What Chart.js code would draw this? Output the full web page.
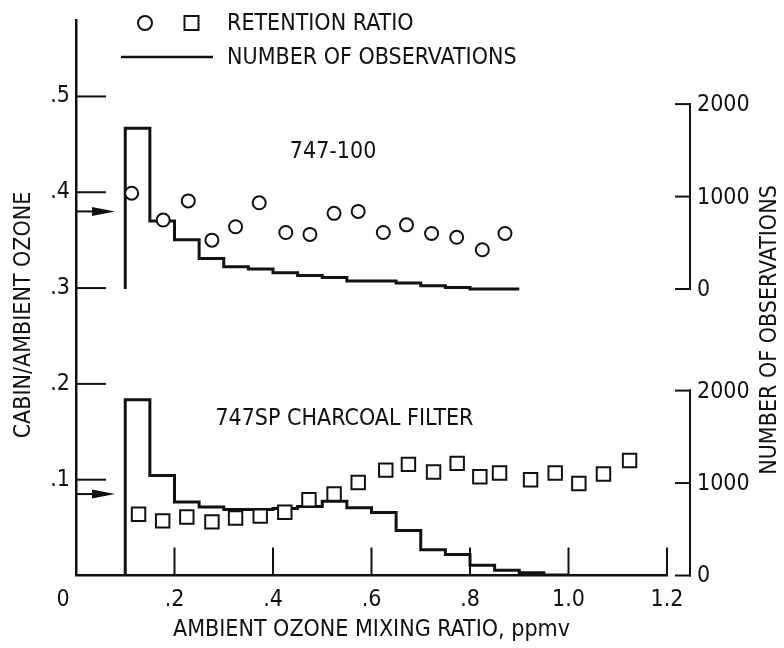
<!DOCTYPE html>
<html>
<head>
<meta charset="utf-8">
<title>Cabin/ambient ozone retention</title>
<script src="https://cdn.jsdelivr.net/npm/chart.js@4.4.1/dist/chart.umd.min.js"></script>
<style>
    html, body { margin: 0; padding: 0; background: #fff; }
    #wrap { width: 784px; height: 648px; }
</style>
</head>
<body>
<div id="wrap"><canvas id="ozone-chart" width="784" height="648"></canvas></div>
<script>
// Retention ratio, 747-100 (circles)
const top_x = [0.113, 0.177, 0.228, 0.276, 0.324, 0.372, 0.426, 0.475, 0.524, 0.573, 0.624, 0.671, 0.722, 0.773, 0.825, 0.871];
const top_ratio = [0.399, 0.371, 0.391, 0.350, 0.364, 0.389, 0.358, 0.356, 0.378, 0.380, 0.358, 0.366, 0.357, 0.353, 0.340, 0.357];

// Retention ratio, 747SP charcoal filter (squares)
const sp_x = [0.127, 0.176, 0.225, 0.276, 0.324, 0.374, 0.424, 0.473, 0.524, 0.573, 0.629, 0.675, 0.726, 0.774, 0.820, 0.860, 0.923, 0.973, 1.021, 1.071, 1.124];
const sp_ratio = [0.064, 0.057, 0.061, 0.056, 0.060, 0.062, 0.066, 0.079, 0.085, 0.097, 0.110, 0.116, 0.108, 0.117, 0.103, 0.107, 0.100, 0.107, 0.096, 0.106, 0.120];

// Number of observations per 0.05 ppmv bin
const top_bin_edges = [0.10, 0.15, 0.20, 0.25, 0.30, 0.35, 0.40, 0.45, 0.50, 0.55, 0.60, 0.65, 0.70, 0.75, 0.80, 0.85, 0.90];
const top_counts = [1740, 737, 532, 330, 240, 216, 177, 145, 126, 88, 88, 64, 35, 17, 0, 0];
const sp_bin_edges = [0.10, 0.15, 0.20, 0.25, 0.30, 0.35, 0.40, 0.45, 0.50, 0.55, 0.60, 0.65, 0.70, 0.75, 0.80, 0.85, 0.90, 0.95, 1.00];
const sp_counts = [1900, 1082, 795, 742, 714, 714, 725, 745, 802, 732, 682, 486, 279, 226, 111, 58, 29, 5];

// Arrows on the left axis
const arrow_ratio = [0.38, 0.085];

// Ticks
const x_ticks = [0, 0.2, 0.4, 0.6, 0.8, 1.0, 1.2];
const x_tick_labels = ['0', '.2', '.4', '.6', '.8', '1.0', '1.2'];
const y_ticks = [0.1, 0.2, 0.3, 0.4, 0.5];
const y_tick_labels = ['.1', '.2', '.3', '.4', '.5'];
const obs_ticks = [0, 1000, 2000];
const obs_tick_labels = ['0', '1000', '2000'];

// Where each right-hand axis puts zero observations, in cabin/ambient units
const top_obs_base = 0.299;
const sp_obs_base = 0;
const RATIO_PER_OBS = 0.0965 / 1000;

const INK = '#111';
const FONT = '"Liberation Sans Narrow", "DejaVu Sans Condensed", "Arial Narrow", sans-serif';
const FONT_SIZE = 23;

function obsToRatio(base, c) {
    return base + c * RATIO_PER_OBS;
}

// Step outline of a histogram: up the left edge, then across each bin
function histPoints(edges, counts, base) {
    const pts = [{x: edges[0], y: base}];
    counts.forEach((c, i) => pts.push({x: edges[i], y: obsToRatio(base, c)}));
    pts.push({x: edges[edges.length - 1], y: obsToRatio(base, counts[counts.length - 1])});
    return pts;
}

function line(ctx, x1, y1, x2, y2) {
    ctx.beginPath();
    ctx.moveTo(x1, y1);
    ctx.lineTo(x2, y2);
    ctx.stroke();
}

// Everything the old plot has that Chart.js doesn't draw on its own
const extrasPlugin = {
    id: 'ozoneExtras',
    afterDraw(chart) {
        const {ctx, chartArea, scales: {x, y}} = chart;
        const left = chartArea.left;
        const bottom = chartArea.bottom;
        ctx.save();
        ctx.strokeStyle = INK;
        ctx.fillStyle = INK;
        ctx.lineCap = 'butt';

        // inward tick marks
        ctx.lineWidth = 2;
        y_ticks.forEach(v => {
            const py = y.getPixelForValue(v);
            line(ctx, left, py, left + 30, py);
        });
        x_ticks.slice(1).forEach(v => {
            const px = x.getPixelForValue(v);
            line(ctx, px, bottom, px, bottom - 28);
        });

        // arrows pointing in from the left axis
        arrow_ratio.forEach(v => {
            const py = y.getPixelForValue(v);
            ctx.lineWidth = 2;
            line(ctx, left, py, left + 20, py);
            ctx.beginPath();
            ctx.moveTo(left + 16, py - 4.5);
            ctx.lineTo(left + 39, py);
            ctx.lineTo(left + 16, py + 4.5);
            ctx.closePath();
            ctx.fill();
        });

        // right-hand observation axes, one bracket per panel
        const axisX = x.getPixelForValue(1.2) + 23;
        ctx.font = FONT_SIZE + 'px ' + FONT;
        ctx.textAlign = 'left';
        ctx.textBaseline = 'middle';
        [top_obs_base, sp_obs_base].forEach(base => {
            const y0 = y.getPixelForValue(obsToRatio(base, obs_ticks[0]));
            const y1 = y.getPixelForValue(obsToRatio(base, obs_ticks[obs_ticks.length - 1]));
            ctx.lineWidth = 2;
            line(ctx, axisX, y0 + 1, axisX, y1 - 1);
            obs_ticks.forEach((c, i) => {
                const py = y.getPixelForValue(obsToRatio(base, c));
                line(ctx, axisX - 15, py, axisX + 1, py);
                ctx.fillText(obs_tick_labels[i], axisX + 7, py + 1);
            });
        });

        // "0" sits under the corner, left of the axis
        ctx.textAlign = 'center';
        ctx.fillText('0', x.getPixelForValue(0) - 13, bottom + 25);

        // panel labels
        ctx.fillText('747-100', x.getPixelForValue(0.522), y.getPixelForValue(0.442));
        ctx.textAlign = 'left';
        ctx.fillText('747SP CHARCOAL FILTER', x.getPixelForValue(0.283), y.getPixelForValue(0.163));

        // legend
        ctx.lineWidth = 2;
        ctx.fillStyle = '#fff';
        ctx.beginPath();
        ctx.arc(145, 23, 7, 0, Math.PI * 2);
        ctx.fill();
        ctx.stroke();
        ctx.strokeRect(184.5, 16, 14, 14);
        ctx.lineWidth = 2.5;
        line(ctx, 121, 57, 213, 57);
        ctx.fillStyle = INK;
        ctx.fillText('RETENTION RATIO', 227, 24);
        ctx.fillText('NUMBER OF OBSERVATIONS', 227, 58);

        // axis titles, rotated
        ctx.textAlign = 'center';
        ctx.save();
        ctx.translate(24, 315);
        ctx.rotate(-Math.PI / 2);
        ctx.fillText('CABIN/AMBIENT OZONE', 0, 0);
        ctx.restore();
        ctx.save();
        ctx.translate(770, 330);
        ctx.rotate(-Math.PI / 2);
        ctx.fillText('NUMBER OF OBSERVATIONS', 0, 0);
        ctx.restore();

        ctx.restore();
    }
};

document.addEventListener('DOMContentLoaded', () => {
    Chart.defaults.font.family = FONT;
    Chart.defaults.font.size = FONT_SIZE;
    Chart.defaults.color = INK;

    const ctx = document.getElementById('ozone-chart').getContext('2d');
    new Chart(ctx, {
        type: 'scatter',
        data: {
            datasets: [
                {
                    label: '747-100 retention ratio',
                    data: top_x.map((v, i) => ({x: v, y: top_ratio[i]})),
                    pointStyle: 'circle',
                    pointRadius: 6.5,
                    borderWidth: 2,
                    borderColor: INK,
                    backgroundColor: '#fff'
                },
                {
                    label: '747SP charcoal filter retention ratio',
                    data: sp_x.map((v, i) => ({x: v, y: sp_ratio[i]})),
                    pointStyle: 'rect',
                    pointRadius: 9.5,
                    borderWidth: 2,
                    borderColor: INK,
                    backgroundColor: '#fff'
                },
                {
                    label: '747-100 number of observations',
                    data: histPoints(top_bin_edges, top_counts, top_obs_base),
                    showLine: true,
                    stepped: true,
                    pointRadius: 0,
                    borderWidth: 3,
                    borderColor: INK,
                    borderJoinStyle: 'miter'
                },
                {
                    label: '747SP number of observations',
                    data: histPoints(sp_bin_edges, sp_counts, sp_obs_base),
                    showLine: true,
                    stepped: true,
                    pointRadius: 0,
                    borderWidth: 3,
                    borderColor: INK,
                    borderJoinStyle: 'miter'
                }
            ]
        },
        options: {
            responsive: false,
            animation: false,
            events: [],
            layout: { padding: { left: 0, right: 117, top: 10.6, bottom: 0 } },
            plugins: {
                legend: { display: false },
                tooltip: { enabled: false }
            },
            scales: {
                x: {
                    type: 'linear',
                    min: 0,
                    max: 1.2,
                    afterBuildTicks: s => { s.ticks = x_ticks.map(v => ({value: v})); },
                    afterFit: s => { s.height = 72.5; },
                    ticks: {
                        autoSkip: false,
                        maxRotation: 0,
                        padding: 11,
                        callback: (v, i) => (i === 0 ? '' : x_tick_labels[i])
                    },
                    grid: { display: false, drawTicks: false },
                    border: { display: true, color: INK, width: 2.5 },
                    title: {
                        display: true,
                        text: 'AMBIENT OZONE MIXING RATIO, ppmv',
                        padding: { top: 0, bottom: 4 }
                    }
                },
                y: {
                    min: 0,
                    max: 0.58,
                    afterBuildTicks: s => { s.ticks = y_ticks.map(v => ({value: v})); },
                    afterFit: s => { s.width = 76; },
                    ticks: {
                        padding: 6,
                        callback: (v, i) => y_tick_labels[i]
                    },
                    grid: { display: false, drawTicks: false },
                    border: { display: true, color: INK, width: 2.5 }
                }
            }
        },
        plugins: [extrasPlugin]
    });
});
</script>
</body>
</html>
